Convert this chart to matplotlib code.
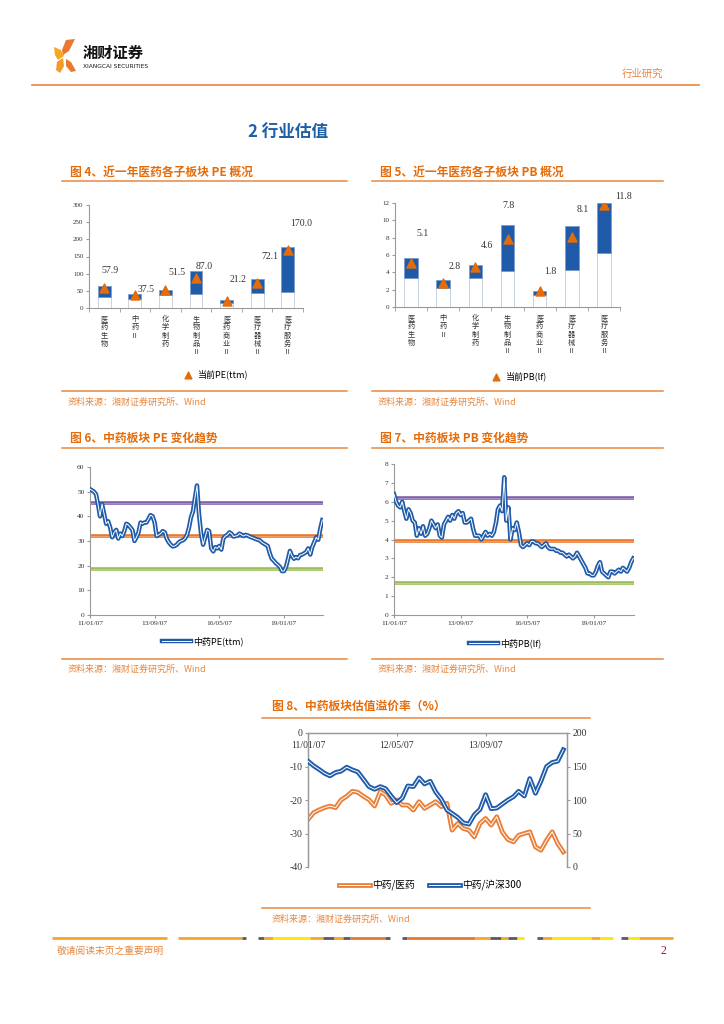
import numpy as np
import pandas as pd
import matplotlib
matplotlib.use('Agg')
import matplotlib.pyplot as plt
import matplotlib.patheffects as pe
from matplotlib.patches import Polygon

CJK = ['Noto Sans CJK SC', 'DejaVu Sans']
SERIF = ['Liberation Serif', 'Noto Sans CJK SC']
plt.rcParams['font.family'] = CJK
plt.rcParams['axes.unicode_minus'] = False

ORANGE = '#E46C0A'
TXT_OR = '#E8873F'
BLUE = '#1F5BA8'
GREY = '#9A9A9A'

# ---- data: sub-sector valuation over the last year ----
sectors = ['医药生物', '中药Ⅱ', '化学制药', '生物制品Ⅱ', '医药商业Ⅱ', '医疗器械Ⅱ', '医疗服务Ⅱ']
pe_low = [32, 25, 37, 40, 14, 43, 48]
pe_high = [65, 40, 53, 107, 23, 84, 177]
pe_now = [57.9, 37.5, 51.5, 87.0, 21.2, 72.1, 170.0]
pb_low = [3.3, 2.2, 3.3, 4.2, 1.4, 4.3, 6.2]
pb_high = [5.6, 3.1, 4.9, 9.5, 1.9, 9.3, 12.0]
pb_now = [5.1, 2.8, 4.6, 7.8, 1.8, 8.1, 11.8]

# ---- data: TCM sector PE / PB history (monthly from 2011-01-07) ----
ts_start = '2011-01-07'
pe_ttm = [51, 50.5, 50, 49, 45, 40, 45, 41, 37, 38,
          35.5, 31.5, 33.5, 34.5, 31, 33, 32, 34, 37, 36.5,
          35.5, 34.5, 30, 31.5, 33.5, 37.5, 37, 37.5, 37.5, 39,
          40.5, 40, 37.5, 32, 32.5, 33, 34, 33.5, 31, 29.5,
          28.5, 27.8, 28, 28.5, 29.5, 30, 30.3, 31, 32.5, 35.5,
          39.5, 42, 47.5, 52.5, 41, 33, 28.5, 31.5, 34.5, 34,
          27, 25.8, 27.5, 27, 28, 26.5, 31, 32, 32.5, 33.5,
          33, 31.8, 32, 32.2, 33, 32.5, 32, 32.5, 32.3, 31.8,
          31.5, 31.2, 30.8, 30.5, 30.3, 29.5, 29, 28.5, 28, 25,
          22.8, 22, 21, 20.3, 19.5, 17.8, 17.8, 19.5, 22.5, 26,
          24, 22.8, 23.5, 23, 24.3, 24.5, 25, 25.5, 27, 24.5,
          27.5, 29.5, 31.5, 30.5, 35, 38.5]
pe_bands = [45.4, 32.1, 18.8]
pb_lf = [6.4, 6.0, 5.8, 5.7, 6.0, 5.5, 5.1, 5.6, 5.4, 5.0,
         4.9, 4.2, 4.6, 4.3, 4.7, 4.2, 4.3, 4.6, 5.0, 4.8,
         4.6, 4.8, 4.2, 4.1, 4.8, 5.0, 5.2, 5.0, 5.3, 5.1,
         5.4, 5.5, 5.3, 5.4, 4.9, 4.9, 5.0, 5.1, 4.6, 4.2,
         4.2, 4.2, 4.0, 4.2, 4.4, 4.2, 4.3, 4.2, 4.4, 4.9,
         5.6, 5.8, 5.5, 7.3, 5.0, 5.7, 4.0, 4.6, 4.5, 4.9,
         4.4, 3.7, 3.6, 3.7, 3.8, 3.7, 3.9, 3.9, 3.8, 3.8,
         3.7, 3.6, 3.7, 3.8, 3.6, 3.5, 3.5, 3.5, 3.4, 3.4,
         3.3, 3.3, 3.2, 3.1, 3.2, 3.1, 3.0, 3.1, 3.3, 3.1,
         2.9, 2.7, 2.5, 2.2, 2.2, 2.1, 2.1, 2.3, 2.6, 2.8,
         2.3, 2.2, 2.1, 2.0, 2.3, 2.3, 2.2, 2.3, 2.4, 2.3,
         2.5, 2.4, 2.3, 2.5, 2.8, 3.0]
pb_bands = [6.18, 3.93, 1.68]
ts_ticks = ['2011-01-07', '2013-09-07', '2016-05-07', '2019-01-07']

# ---- data: TCM valuation premium (monthly from 2011-01-07) ----
prem_ticks = ['2011-01-07', '2012-05-07', '2013-09-07']
prem_vs_pharma = [-25.8, -23.8, -23.0, -22.3, -21.8, -22.3, -20.0, -18.9, -17.4, -17.7,
                  -18.9, -19.9, -21.8, -17.5, -18.5, -21.0, -20.0, -21.5, -21.5, -23.0,
                  -20.5, -22.5, -21.5, -20.5, -22.0, -21.0, -29.0, -27.0, -28.5, -29.0,
                  -31.0, -27.0, -25.5, -27.5, -25.0, -29.5, -31.8, -32.5, -30.5, -30.0,
                  -29.5, -34.0, -35.0, -32.0, -29.5, -33.0, -35.5]
prem_vs_hs300 = [158, 151, 146, 140, 136, 141, 143, 149, 145, 142,
                 131, 120, 116, 120, 117, 106, 96, 103, 121, 120,
                 133, 124, 128, 112, 101, 85, 80, 74, 66, 64,
                 78, 86, 108, 87, 88, 94, 100, 105, 113, 106,
                 132, 110, 128, 150, 156, 158, 175]

# label offsets for the "current" values, in pixels (dx, dy up)
pe_lbl_off = [(6, 18), (11, 6), (12, 18), (8, 12), (11, 21), (13, 27), (13, 26)]
pb_lbl_off = [(11, 29), (11, 16), (12, 22), (1, 34), (11, 20), (11, 27), (20, 8)]

W, H = 724, 1024
fig = plt.figure(figsize=(W / 100, H / 100), dpi=100)
bg = fig.add_axes([0, 0, 1, 1], zorder=-5)
bg.set_xlim(0, W)
bg.set_ylim(H, 0)
bg.axis('off')


def rect(x0, y0, x1, y1):
    return [x0 / W, 1 - y1 / H, (x1 - x0) / W, (y1 - y0) / H]


def fpos(x, y):
    return (x / W, 1 - y / H)


def double_line(color, width=2.8, inner='white'):
    return dict(color=inner, lw=0.7,
                path_effects=[pe.Stroke(linewidth=width, foreground=color), pe.Normal()])


def style_ticks(ax, size):
    for lab in ax.get_yticklabels() + ax.get_xticklabels():
        lab.set_family(SERIF)
        lab.set_fontsize(size)
        lab.set_color('#333333')


def bar_panel(box, low, high, now, ymax, step, offsets, fmt, leg_label, leg_xy):
    ax = fig.add_axes(rect(*box))
    x = np.arange(len(sectors))
    ax.bar(x, low, width=0.42, color='white', edgecolor='#C9D2DE', linewidth=0.7)
    ax.bar(x, np.subtract(high, low), bottom=low, width=0.42, color=BLUE,
           edgecolor='#7C9CCB', linewidth=0.6)
    ax.scatter(x, now, marker='^', s=42, color=ORANGE, zorder=3, label=leg_label)
    for xi, v, (dx, dy) in zip(x, now, offsets):
        ax.annotate(fmt.format(v), (xi, v), xytext=(dx * 0.72, dy * 0.72),
                    textcoords='offset points', ha='center', va='center',
                    fontsize=7, family=SERIF, color='#333333')
    ax.set_xlim(-0.5, len(sectors) - 0.5)
    ax.set_ylim(0, ymax)
    ax.set_yticks(np.arange(0, ymax + step / 2, step))
    ax.set_xticks(x)
    ax.set_xticklabels(['\n'.join(s) for s in sectors], linespacing=1.05)
    ax.set_xticks(np.arange(-0.5, len(sectors), 1), minor=True)
    ax.tick_params(axis='x', which='major', length=0, pad=5)
    ax.tick_params(axis='x', which='minor', length=3, color=GREY)
    ax.tick_params(axis='y', length=2, color=GREY, pad=2)
    for s in ['top', 'right']:
        ax.spines[s].set_visible(False)
    for s in ['left', 'bottom']:
        ax.spines[s].set_color(GREY)
        ax.spines[s].set_linewidth(0.8)
    style_ticks(ax, 5)
    for lab in ax.get_xticklabels():
        lab.set_family(CJK)
        lab.set_fontsize(5.2)
    ax.legend(loc='center', bbox_to_anchor=fpos(*leg_xy), bbox_transform=fig.transFigure,
              frameon=False, handletextpad=0.1, markerscale=0.75,
              prop={'family': SERIF[::-1], 'size': 6.5})
    return ax


def ts_panel(box, values, bands, ymax, step, leg_label, leg_xy):
    ax = fig.add_axes(rect(*box))
    dates = pd.date_range(ts_start, periods=len(values), freq=pd.DateOffset(months=1))
    band_cols = ['#7E61A8', '#E8772E', '#9BBB59']
    band_inner = ['#B6A3D2', '#F4B07E', '#C6DA9C']
    for val, c, ci in zip(bands, band_cols, band_inner):
        ax.axhline(val, color=c, lw=2.6, zorder=2)
        ax.axhline(val, color=ci, lw=0.5, zorder=2)
    ax.plot(dates, values, label=leg_label, zorder=3, **double_line(BLUE, 3.2))
    ax.set_xlim(pd.Timestamp(ts_start), dates[-1] + pd.Timedelta(days=10))
    ax.set_ylim(0, ymax)
    ax.set_yticks(np.arange(0, ymax + step / 2, step))
    tk = pd.to_datetime(ts_ticks)
    ax.set_xticks(tk)
    ax.set_xticklabels([t.strftime('%y/%m/%d') for t in tk])
    ax.tick_params(length=2, color=GREY, pad=2)
    for s in ['top', 'right']:
        ax.spines[s].set_visible(False)
    for s in ['left', 'bottom']:
        ax.spines[s].set_color(GREY)
        ax.spines[s].set_linewidth(0.8)
    style_ticks(ax, 5.3)
    ax.legend(loc='center', bbox_to_anchor=fpos(*leg_xy), bbox_transform=fig.transFigure,
              frameon=False, handlelength=3.2, handletextpad=0.2,
              prop={'family': SERIF[::-1], 'size': 6.5})
    return ax


# ---- page header ----
logo_shapes = [
    ([(66, 40), (75, 39), (69, 51), (63, 55), (62, 50)], '#E8792F'),
    ([(54, 47), (61, 50), (64, 56), (58, 60), (55, 55)], '#F7A823'),
    ([(57, 62), (63, 58), (64, 66), (60, 73), (56, 70)], '#F39A2B'),
    ([(66, 59), (71, 62), (76, 71), (71, 72), (66, 66)], '#E8792F'),
]
for pts, c in logo_shapes:
    bg.add_patch(Polygon(pts, closed=True, color=c, lw=0))
bg.text(83, 53, '湘财证券', fontsize=11, fontweight='bold', color='#111111', va='center')
bg.text(83, 67, 'XIANGCAI SECURITIES', fontsize=4.2, color='#111111', va='center',
        family=['Liberation Sans Narrow', 'DejaVu Sans'])
bg.text(642, 74, '行业研究', fontsize=7.5, color=TXT_OR, ha='center', va='center')
bg.plot([32, 699], [85, 85], color=TXT_OR, lw=1.2)
bg.text(288, 133, '2 行业估值', fontsize=12, fontweight='bold', color='#1F5FA6',
        ha='center', va='center')

# section titles, rules and sources
titles = [
    (70, 172, '图 4、近一年医药各子板块 PE 概况'),
    (380, 172, '图 5、近一年医药各子板块 PB 概况'),
    (70, 438, '图 6、中药板块 PE 变化趋势'),
    (380, 438, '图 7、中药板块 PB 变化趋势'),
    (272, 706, '图 8、中药板块估值溢价率（%）'),
]
for x, y, t in titles:
    bg.text(x, y, t, fontsize=8.5, fontweight='bold', color=ORANGE, va='center')

rules = [(62, 347, 181), (372, 663, 181), (62, 347, 391), (372, 663, 391),
         (62, 347, 448), (372, 663, 448), (62, 347, 659), (372, 663, 659),
         (262, 590, 718), (262, 590, 908)]
for x0, x1, y in rules:
    bg.plot([x0, x1], [y, y], color=TXT_OR, lw=1.1)

for x, y in [(68, 402), (378, 402), (68, 669), (378, 669), (272, 919)]:
    bg.text(x, y, '资料来源：湘财证券研究所、Wind', fontsize=6.5, color=TXT_OR, va='center')

# ---- figure 4 / 5 ----
bar_panel((89, 205, 303, 308), pe_low, pe_high, pe_now, 300, 50, pe_lbl_off, '{:.1f}',
          '当前PE(ttm)', (214, 374))
bar_panel((395, 203, 620, 307), pb_low, pb_high, pb_now, 12, 2, pb_lbl_off, '{:.1f}',
          '当前PB(lf)', (517, 376))

# ---- figure 6 / 7 ----
ts_panel((90, 467, 323, 615), pe_ttm, pe_bands, 60, 10, '中药PE(ttm)', (203, 641))
ts_panel((394, 464, 634, 615), pb_lf, pb_bands, 8, 1, '中药PB(lf)', (505, 643))

# ---- figure 8 ----
ax8 = fig.add_axes(rect(308, 733, 567, 867))
d8 = pd.date_range(ts_start, periods=len(prem_vs_pharma), freq=pd.DateOffset(months=1))
ax8.plot(d8, prem_vs_pharma, label='中药/医药', zorder=3, **double_line('#E8803A', 3.4))
ax8.set_ylim(-40, 0)
ax8.set_yticks(np.arange(-40, 1, 10))
ax8.set_xlim(pd.Timestamp(ts_start), d8[-1] + pd.Timedelta(days=20))
tk8 = pd.to_datetime(prem_ticks)
ax8.set_xticks(tk8)
ax8.set_xticklabels([t.strftime('%y/%m/%d') for t in tk8])
ax8.xaxis.set_ticks_position('top')
ax8.tick_params(axis='x', direction='in', length=2, pad=-12, color=GREY,
                top=True, labeltop=True, bottom=False, labelbottom=False)
ax8.tick_params(axis='y', length=2, color=GREY, pad=2)
ax8r = ax8.twinx()
ax8r.plot(d8, prem_vs_hs300, label='中药/沪深300', zorder=3, **double_line(BLUE, 3.4))
ax8r.set_ylim(0, 200)
ax8r.set_yticks(np.arange(0, 201, 50))
ax8r.tick_params(axis='y', length=2, color=GREY, pad=2)
for a in (ax8, ax8r):
    a.spines['bottom'].set_visible(False)
    for s in ['top', 'left', 'right']:
        a.spines[s].set_color(GREY)
        a.spines[s].set_linewidth(0.9)
    style_ticks(a, 7)
h1, l1 = ax8.get_legend_handles_labels()
h2, l2 = ax8r.get_legend_handles_labels()
fig.legend(h1 + h2, l1 + l2, loc='center', bbox_to_anchor=fpos(430, 885), ncol=2,
           frameon=False, handlelength=3.2, handletextpad=0.2, columnspacing=1.5,
           prop={'family': SERIF[::-1], 'size': 7})

# ---- footer ----
footer_segments = [
    (52, 167, '#F5A623'), (178, 242, '#F5A623'), (242, 246, '#5A5A5A'),
    (258, 264, '#5A5A5A'), (264, 273, '#F5A623'), (273, 310, '#FFE600'),
    (310, 323, '#F5A623'), (323, 334, '#5A5A5A'), (334, 343, '#F5A623'),
    (343, 350, '#5A5A5A'), (350, 385, '#E8772E'), (385, 390, '#5A5A5A'),
    (402, 407, '#5A5A5A'), (407, 475, '#E8772E'), (475, 490, '#F5A623'),
    (490, 501, '#5A5A5A'), (501, 508, '#F5A623'), (508, 517, '#5A5A5A'),
    (517, 524, '#FFE600'), (537, 543, '#5A5A5A'), (543, 552, '#F5A623'),
    (552, 591, '#FFE600'), (591, 600, '#F5A623'), (600, 613, '#FFE600'),
    (621, 628, '#5A5A5A'), (628, 639, '#FFE600'), (639, 673, '#F5A623'),
]
for x0, x1, c in footer_segments:
    bg.plot([x0, x1], [938, 938], color=c, lw=2.0, solid_capstyle='butt')
bg.text(57, 951, '敬请阅读末页之重要声明', fontsize=7, color=TXT_OR, va='center')
bg.text(663, 951, '2', fontsize=8.5, color='#9B1B30', va='center', ha='center', family=SERIF)

fig.savefig('out.png', dpi=100)
